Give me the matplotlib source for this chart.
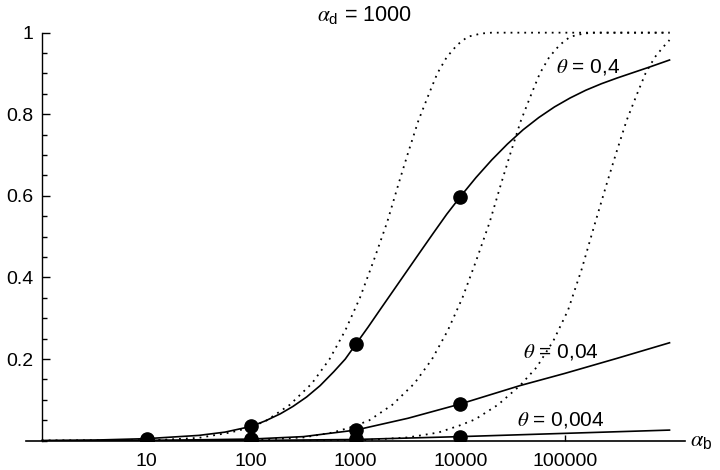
import numpy as np
import matplotlib
matplotlib.use("Agg")
import matplotlib.pyplot as plt
from matplotlib.ticker import FixedLocator, MultipleLocator

plt.rcParams["font.family"] = ["Liberation Sans", "DejaVu Sans"]
plt.rcParams["mathtext.fontset"] = "custom"
plt.rcParams["mathtext.rm"] = "Liberation Sans"
plt.rcParams["mathtext.sf"] = "Liberation Sans"
plt.rcParams["mathtext.it"] = "STIXGeneral:italic"

# values, x given as log10(alpha_b)
dot1_logx = [0.0, 1.0, 1.5, 1.8, 2.0, 2.15, 2.37, 2.58, 2.75, 2.9, 3.04, 3.17, 3.3, 3.41, 3.5,
             3.6, 3.7, 3.78, 3.87, 3.97, 4.07, 4.2, 4.3, 6.0]
dot1_y = [0.0, 0.0, 0.007, 0.02, 0.033, 0.05, 0.088, 0.14, 0.2, 0.27, 0.35, 0.44, 0.535, 0.63, 0.705,
          0.785, 0.85, 0.9, 0.94, 0.97, 0.99, 0.998, 1.0, 1.0]

dot2_logx = [0.0, 2.0, 2.5, 2.78, 2.98, 3.13, 3.35, 3.56, 3.73, 3.88, 4.02, 4.15, 4.28, 4.39,
             4.48, 4.58, 4.68, 4.76, 4.85, 4.95, 5.05, 5.18, 5.28, 6.0]
dot2_y = [0.0, 0.002, 0.008, 0.02, 0.035, 0.05, 0.088, 0.14, 0.2, 0.27, 0.35, 0.44, 0.535, 0.63,
          0.705, 0.785, 0.85, 0.9, 0.94, 0.97, 0.99, 0.998, 1.0, 1.0]

dot3_logx = [0.0, 3.0, 3.5, 3.79, 3.99, 4.14, 4.36, 4.57, 4.73, 4.89, 5.03, 5.16, 5.29, 5.4,
             5.49, 5.59, 5.69, 5.77, 5.86, 5.94, 6.0]
dot3_y = [0.0, 0.0, 0.008, 0.02, 0.037, 0.052, 0.088, 0.135, 0.18, 0.245, 0.32, 0.42, 0.535, 0.63,
          0.705, 0.785, 0.85, 0.9, 0.94, 0.965, 0.982]

th1_logx = [0.0, 0.5, 1.0, 1.5, 1.75, 2.0, 2.14, 2.28, 2.4, 2.53, 2.66, 2.79, 2.9, 3.0, 3.12, 3.23,
            3.36, 3.49, 3.62, 3.74, 3.87, 4.0, 4.15, 4.3, 4.45, 4.6, 4.75, 4.9, 5.05, 5.2,
            5.35, 5.5, 5.65, 5.8, 6.0]
th1_y = [0.0, 0.0015, 0.005, 0.013, 0.021, 0.035, 0.049, 0.066, 0.084, 0.107, 0.135, 0.169, 0.2, 0.236,
         0.279, 0.32, 0.368, 0.416, 0.464, 0.508, 0.555, 0.598, 0.645, 0.688, 0.727, 0.762, 0.792, 0.818,
         0.84, 0.859, 0.875, 0.889, 0.902, 0.915, 0.933]

th2_logx = [0.0, 1.0, 2.0, 2.5, 3.0, 3.5, 4.0, 4.57, 5.0, 5.5, 6.0]
th2_y = [0.0, 0.0005, 0.004, 0.01, 0.026, 0.055, 0.09, 0.135, 0.165, 0.202, 0.24]

th3_logx = [0.0, 2.0, 3.0, 4.0, 5.0, 6.0]
th3_y = [0.0, 0.0005, 0.003, 0.01, 0.018, 0.026]

pts_x = [10, 100, 1000, 10000]
pts_th1 = [0.005, 0.035, 0.236, 0.598]
pts_th2 = [0.0005, 0.004, 0.026, 0.09]
pts_th3 = [0.0001, 0.0005, 0.003, 0.01]

xticks = [10, 100, 1000, 10000, 100000]
xtick_labels = ["10", "100", "1000", "10000", "100000"]
yticks = [0.2, 0.4, 0.6, 0.8, 1.0]
ytick_labels = ["0.2", "0.4", "0.6", "0.8", "1"]

fig = plt.figure(figsize=(7.2, 4.7), dpi=100)
ax = fig.add_axes([26 / 720, 29.3 / 470, 659 / 720, 412.1 / 470])
ax.set_xscale("log")
ax.set_xlim(10 ** -0.152, 10 ** 6.148)
ax.set_ylim(0, 1.01)

dotted = dict(color="black", lw=1.3, linestyle=(0, (1, 2.8)))
for lx, yy in [(dot1_logx, dot1_y), (dot2_logx, dot2_y), (dot3_logx, dot3_y)]:
    ax.plot(10 ** np.array(lx), yy, **dotted)

for lx, yy in [(th1_logx, th1_y), (th2_logx, th2_y), (th3_logx, th3_y)]:
    ax.plot(10 ** np.array(lx), yy, color="black", lw=1.2)

for yy in [pts_th1, pts_th2, pts_th3]:
    ax.plot(pts_x, yy, "o", color="black", markersize=9.5, zorder=5)

ax.spines["top"].set_visible(False)
ax.spines["right"].set_visible(False)
ax.spines["left"].set_position(("data", 1))
ax.spines["left"].set_bounds(0, 1)
ax.spines["left"].set_linewidth(1.0)
ax.spines["bottom"].set_linewidth(1.2)

ax.xaxis.set_major_locator(FixedLocator(xticks))
ax.set_xticklabels(xtick_labels)
ax.xaxis.set_minor_locator(FixedLocator([]))
ax.set_yticks(yticks)
ax.set_yticklabels(ytick_labels)
ax.yaxis.set_minor_locator(MultipleLocator(0.05))
ax.tick_params(axis="x", which="major", direction="in", length=4, width=1, labelsize=14, pad=9)
ax.tick_params(axis="y", which="major", direction="in", length=6, width=1, labelsize=14, pad=6)
ax.tick_params(axis="y", which="minor", direction="in", length=3.5, width=1)

ax.text(10 ** 5.22, 0.915, r"$\theta$ = 0,4", fontsize=15, ha="center", va="center")
ax.text(10 ** 4.96, 0.218, r"$\theta$ = 0,04", fontsize=15, ha="center", va="center")
ax.text(10 ** 4.96, 0.05, r"$\theta$ = 0,004", fontsize=15, ha="center", va="center")

fig.text(364 / 720, 1 - 15 / 470, r"$\alpha_\mathrm{d}$ = 1000", fontsize=15.5, ha="center", va="center")
ax.text(10 ** 6.2, 0, r"$\alpha_\mathrm{b}$", fontsize=16, ha="left", va="center")

fig.savefig("out.png", dpi=100)
